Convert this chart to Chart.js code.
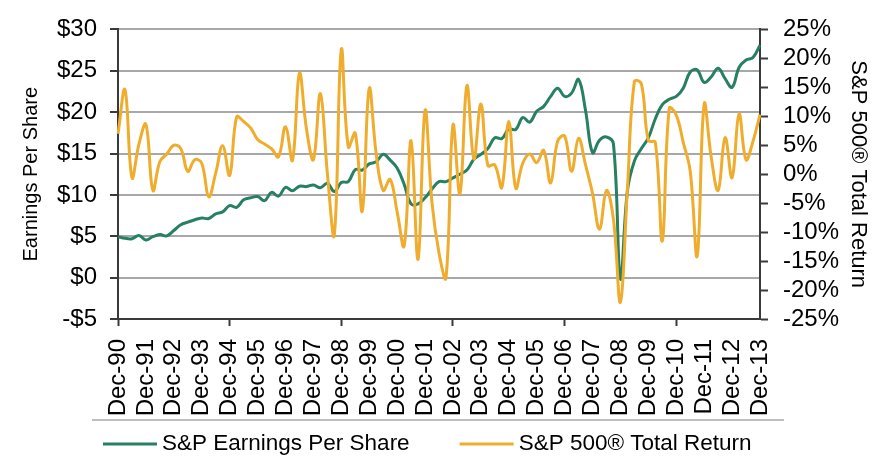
<!DOCTYPE html>
<html>
<head>
<meta charset="utf-8">
<title>S&amp;P Earnings Per Share vs Total Return</title>
<script src="https://cdn.jsdelivr.net/npm/chart.js@4.4.0/dist/chart.umd.min.js"></script>
<style>
  html, body { margin: 0; padding: 0; background: #fff; }
</style>
</head>
<body>
<canvas id="epschart" width="886" height="466"></canvas>
<script>
'use strict';
//** Data */

// quarter-end months, first label is Dec-90
let quartermonths = ['Dec', 'Mar', 'Jun', 'Sep'];
let firstyear = 1990;
let quartercount = 93;

// S&P Earnings Per Share ($), quarterly Dec-90 .. Dec-13
let epsvalues = [
  4.95, 4.75, 4.7, 5.1, 4.55, 4.95, 5.2, 5.05, 5.7, 6.4,
  6.7, 7.0, 7.2, 7.15, 7.7, 7.95, 8.7, 8.5, 9.4, 9.65,
  9.8, 9.3, 10.3, 9.85, 10.9, 10.5, 11.05, 11.0, 11.2, 10.85,
  11.4, 10.4, 11.5, 11.6, 13.05, 13.0, 13.75, 14.0, 14.9, 14.2,
  13.25, 11.3, 8.9, 8.9, 9.65, 10.7, 11.6, 11.6, 12.05, 12.5,
  13.0, 14.3, 14.9, 15.6, 16.9, 16.8, 17.95, 17.9, 19.35, 18.8,
  20.1, 20.7, 21.9, 22.9, 21.9, 22.3, 23.95, 20.2, 15.1, 16.6,
  17.0, 16.15, -0.15, 10.5, 14.1, 15.6, 16.9, 19.2, 20.9, 21.55,
  21.9, 22.9, 24.85, 25.1, 23.6, 24.25, 25.3, 24.05, 23.0, 25.4,
  26.3, 26.6, 28.1
];

// S&P 500 Total Return (%), quarterly
let returnvalues = [
  7.0, 14.6, -0.6, 5.2, 8.6, -2.8, 2.2, 3.5, 5.0, 4.4,
  0.5, 2.5, 1.9, -3.9, 0.2, 4.9, -0.2, 9.9, 9.1, 8.0,
  6.0, 5.2, 4.4, 3.0, 8.2, 2.4, 17.4, 7.9, 2.5, 13.9,
  0.2, -10.5, 21.5, 4.7, 7.1, -6.4, 14.8, 3.5, -2.8, -0.9,
  -6.5, -12.4, 5.8, -14.7, 11.0, -5.0, -13.6, -17.9, 8.5, -3.4,
  15.3, 2.6, 12.1, 1.5, 1.6, -2.3, 9.1, -2.4, 1.9, 3.5,
  2.0, 4.1, -1.5, 5.7, 6.6, 0.5, 6.2, 1.6, -3.3, -9.5,
  -2.8, -7.8, -22.1, -2.5, 16.0, 15.6, 5.8, 5.5, -11.5, 11.4,
  10.2, 5.5, 0.5, -14.1, 12.1, 3.0, -2.8, 6.3, -0.6, 10.4,
  2.5, 5.7, 10.3
];

// axis ticks
let epsticks = { min: -5, max: 30, step: 5 };
let returnticks = { min: -25, max: 25, step: 5 };

//** Labels */

let quarterlabels = [];
for (let i = 0; i < quartercount; i++) {
  let year = firstyear + Math.ceil(i / 4);
  let yy = String(year % 100).padStart(2, '0');
  quarterlabels.push(`${quartermonths[i % 4]}-${yy}`);
}

//** Styles */

let green = '#27805f';
let orange = '#f0ac2c';
let darkline = '#3a3a3a';
let gridgray = '#a8a8a8';

Chart.defaults.font.family = '"Liberation Sans", Arial, Helvetica, sans-serif';
Chart.defaults.color = '#000';

//** Legend drawn under the axis */

let legendbox = {
  id: 'legendbox',
  afterDraw(chart) {
    let c = chart.ctx;
    c.save();
    c.strokeStyle = gridgray;
    c.lineWidth = 1.5;
    c.beginPath();
    c.moveTo(92, 420);
    c.lineTo(784, 420);
    c.stroke();

    c.font = '22.5px "Liberation Sans", Arial, Helvetica, sans-serif';
    c.textBaseline = 'middle';
    c.fillStyle = '#000';
    let x = 103;
    let y = 444;
    chart.data.datasets.forEach(function (ds) {
      c.strokeStyle = ds.borderColor;
      c.lineWidth = 3;
      c.beginPath();
      c.moveTo(x, y);
      c.lineTo(x + 54, y);
      c.stroke();
      c.fillText(ds.label, x + 59, y);
      x += 59 + c.measureText(ds.label).width + 50;
    });
    c.restore();
  }
};

//** Chart */

let ctx = document.getElementById('epschart');

let chartObj = {
  type: 'line',
  data: {
    labels: quarterlabels,
    datasets: [{
      label: 'S&P Earnings Per Share',
      data: epsvalues,
      borderColor: green,
      backgroundColor: green,
      yAxisID: 'y',
      order: 2
    },
    {
      label: 'S&P 500® Total Return',
      data: returnvalues,
      borderColor: orange,
      backgroundColor: orange,
      yAxisID: 'y1',
      order: 1
    }]
  },
  options: {
    responsive: false,
    animation: false,
    layout: { padding: { left: 0, right: 0, top: 17, bottom: 46 } },
    elements: {
      point: { radius: 0 },
      line: { tension: 0.4, borderWidth: 3 }
    },
    plugins: {
      legend: { display: false },
      tooltip: { enabled: false }
    },
    scales: {
      x: {
        grid: {
          drawOnChartArea: false,
          tickLength: 7,
          tickWidth: 2,
          tickColor: function (c) { return c.index % 4 === 0 ? darkline : 'rgba(0,0,0,0)'; }
        },
        border: { color: darkline, width: 2 },
        ticks: {
          autoSkip: false,
          maxRotation: 90,
          minRotation: 90,
          padding: 13,
          font: { size: 24 },
          callback: function (value, index) {
            return index % 4 === 0 ? this.getLabelForValue(value) : null;
          }
        },
        afterFit: function (scale) { scale.height = 101; }
      },
      y: {
        position: 'left',
        min: epsticks.min,
        max: epsticks.max,
        ticks: {
          stepSize: epsticks.step,
          autoSkip: false,
          padding: 13,
          font: { size: 24 },
          callback: function (v) { return v < 0 ? '-$' + (-v) : '$' + v; }
        },
        grid: { color: gridgray, lineWidth: 2, tickColor: darkline, tickLength: 8 },
        border: { color: darkline, width: 2 },
        title: {
          display: true,
          text: 'Earnings Per Share',
          font: { size: 20 },
          padding: { top: 19, bottom: 0 }
        },
        afterFit: function (scale) { scale.width = 118; }
      },
      y1: {
        position: 'right',
        min: returnticks.min,
        max: returnticks.max,
        ticks: {
          stepSize: returnticks.step,
          autoSkip: false,
          padding: 15,
          font: { size: 24 },
          callback: function (v) { return v + '%'; }
        },
        grid: { drawOnChartArea: false, tickColor: darkline, tickLength: 8, tickWidth: 2 },
        border: { color: darkline, width: 2 },
        title: {
          display: true,
          text: 'S&P 500® Total Return',
          font: { size: 22 },
          padding: { top: 15, bottom: 0 }
        },
        afterFit: function (scale) { scale.width = 126; }
      }
    }
  },
  plugins: [legendbox]
};

let epschart = new Chart(ctx, chartObj);
</script>
</body>
</html>
